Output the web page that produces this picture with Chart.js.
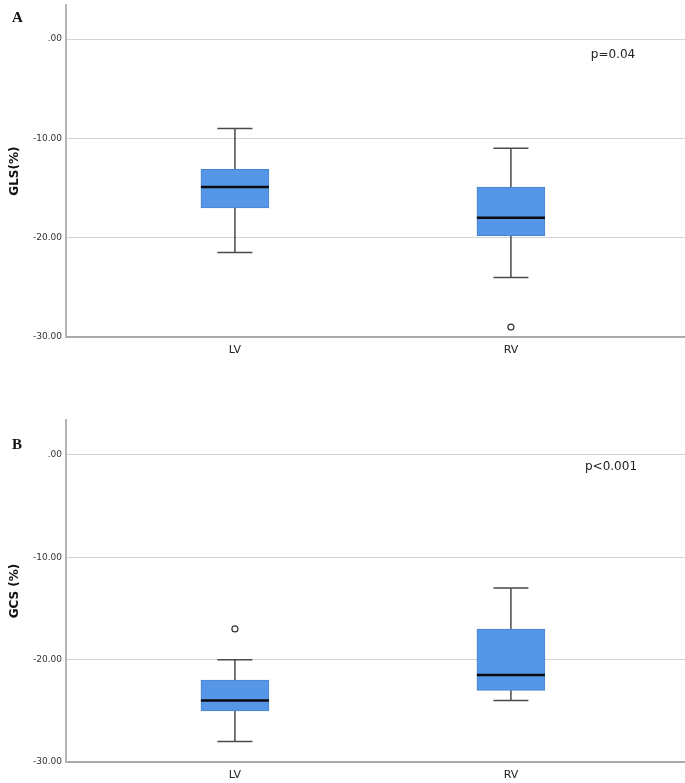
<!DOCTYPE html>
<html>
<head>
<meta charset="utf-8">
<script src="https://cdn.jsdelivr.net/npm/chart.js@4.4.1/dist/chart.umd.min.js"></script>
<style>
  html, body { margin: 0; background: #fff; width: 685px; height: 783px; overflow: hidden; }
  body { position: relative; }
  canvas { position: absolute; left: 0; }
  #chartA { top: 0; }
  #chartB { top: 391px; }
  .panel { position: absolute; left: 12px; font: bold 15px "Liberation Serif", "DejaVu Serif", serif; color: #111; }
  .pval { position: absolute; font: 12px "DejaVu Sans", sans-serif; color: #222; transform: translateX(-50%); }
</style>
</head>
<body>
<canvas id="chartA" width="690" height="391"></canvas>
<canvas id="chartB" width="690" height="392"></canvas>
<div class="panel" style="top: 9px;">A</div>
<div class="panel" style="top: 436px;">B</div>
<div class="pval" style="left: 613px; top: 47px;">p=0.04</div>
<div class="pval" style="left: 611px; top: 459px;">p&lt;0.001</div>
<script>
const categories = ['LV', 'RV'];
const yTickValues = [-30, -20, -10, 0];
const yTickLabels = ['-30.00', '-20.00', '-10.00', '.00'];

// panel A: GLS
const glsMin = [-21.5, -24.0];
const glsQ1 = [-17.0, -19.8];
const glsMedian = [-14.9, -18.0];
const glsQ3 = [-13.1, -14.9];
const glsMax = [-9.0, -11.0];
const glsOutliers = [null, -29.0];

// panel B: GCS
const gcsMin = [-28.0, -24.0];
const gcsQ1 = [-25.0, -23.0];
const gcsMedian = [-24.0, -21.5];
const gcsQ3 = [-22.0, -17.0];
const gcsMax = [-20.0, -13.0];
const gcsOutliers = [-17.0, null];

function boxPlugin(mins, medians, maxs) {
    return {
        id: 'boxParts',
        beforeDatasetsDraw(chart) {
            const ctx = chart.ctx;
            const x = chart.scales.x, y = chart.scales.y;
            ctx.save();
            ctx.strokeStyle = '#4a4a4a';
            ctx.lineWidth = 1.5;
            mins.forEach((m, i) => {
                const px = x.getPixelForValue(i + 1);
                const top = y.getPixelForValue(maxs[i]);
                const bot = y.getPixelForValue(m);
                ctx.beginPath();
                ctx.moveTo(px, top); ctx.lineTo(px, bot);
                ctx.moveTo(px - 17.5, top); ctx.lineTo(px + 17.5, top);
                ctx.moveTo(px - 17.5, bot); ctx.lineTo(px + 17.5, bot);
                ctx.stroke();
            });
            ctx.restore();
        },
        afterDatasetsDraw(chart) {
            const ctx = chart.ctx;
            const x = chart.scales.x, y = chart.scales.y;
            ctx.save();
            ctx.strokeStyle = '#0a0a0a';
            ctx.lineWidth = 2.5;
            medians.forEach((m, i) => {
                const px = x.getPixelForValue(i + 1);
                const py = y.getPixelForValue(m);
                ctx.beginPath();
                ctx.moveTo(px - 34, py); ctx.lineTo(px + 34, py);
                ctx.stroke();
            });
            ctx.restore();
        }
    };
}

function makeChart(id, q1, q3, mins, medians, maxs, outliers, yTitle, topPad, xHeight) {
    new Chart(document.getElementById(id), {
        type: 'bar',
        data: {
            datasets: [{
                type: 'bar',
                data: q1.map((v, i) => ({ x: i + 1, y: [v, q3[i]] })),
                backgroundColor: '#5597e6',
                borderColor: '#4a84cf',
                borderWidth: 1,
                borderSkipped: false,
                barThickness: 68
            }, {
                type: 'line',
                data: outliers.map((v, i) => ({ x: i + 1, y: v })),
                showLine: false,
                pointRadius: 3,
                pointBackgroundColor: '#fff',
                pointBorderColor: '#333',
                pointBorderWidth: 1.2
            }]
        },
        options: {
            responsive: false,
            animation: false,
            layout: { padding: { top: topPad, left: 0, right: 0, bottom: 0 } },
            plugins: { legend: { display: false }, tooltip: { enabled: false } },
            scales: {
                x: {
                    type: 'linear',
                    min: 0.388,
                    max: 2.63,
                    offset: false,
                    afterFit: s => { s.height = xHeight; s.paddingLeft = 0; s.paddingRight = 0; },
                    afterBuildTicks: s => { s.ticks = categories.map((c, i) => ({ value: i + 1 })); },
                    ticks: {
                        callback: (v, i) => categories[i],
                        padding: 7,
                        color: '#222',
                        font: { family: 'DejaVu Sans', size: 11 }
                    },
                    grid: { display: false, drawTicks: false, offset: false },
                    border: { color: '#aaaaaa', width: 2 }
                },
                y: {
                    min: -30,
                    max: 3.42,
                    afterFit: s => { s.width = 66; s.paddingTop = 0; s.paddingBottom = 0; },
                    afterBuildTicks: s => { s.ticks = yTickValues.map(v => ({ value: v })); },
                    ticks: {
                        callback: (v, i) => yTickLabels[i],
                        padding: 4,
                        color: '#333',
                        font: { family: 'DejaVu Sans', size: 9 }
                    },
                    grid: { color: '#d4d4d4', lineWidth: 1, drawTicks: false },
                    border: { color: '#b4b4b4', width: 2 },
                    title: {
                        display: true,
                        text: yTitle,
                        color: '#111',
                        padding: { top: 8, bottom: 4 },
                        font: { family: 'DejaVu Sans', size: 12, weight: 'bold' }
                    }
                }
            }
        },
        plugins: [boxPlugin(mins, medians, maxs)]
    });
}

makeChart('chartA', glsQ1, glsQ3, glsMin, glsMedian, glsMax, glsOutliers, 'GLS(%)', 5, 54);
makeChart('chartB', gcsQ1, gcsQ3, gcsMin, gcsMedian, gcsMax, gcsOutliers, 'GCS (%)', 29, 21);
</script>
</body>
</html>
